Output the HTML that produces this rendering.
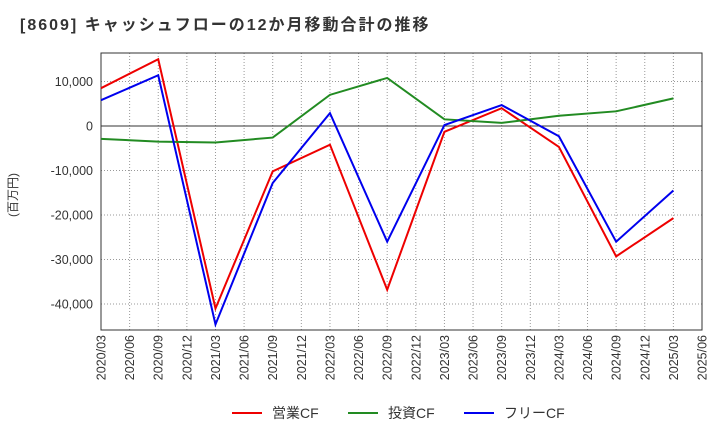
<!DOCTYPE html>
<html><head><meta charset="utf-8"><style>
body{margin:0;background:#fff;font-family:"Liberation Sans","Noto Sans CJK JP",sans-serif;}
</style></head><body>
<svg id="chart" width="720" height="440" xmlns="http://www.w3.org/2000/svg">
<text x="20" y="30" font-size="16" font-weight="bold" letter-spacing="2" fill="#333" font-family="Liberation Sans, Noto Sans CJK JP, sans-serif">[8609]  キャッシュフローの12か月移動合計の推移</text>
<text transform="translate(17,195) rotate(-90)" font-size="12" fill="#333" text-anchor="middle" font-family="Liberation Sans, Noto Sans CJK JP, sans-serif">(百万円)</text>
<g id="grid"></g><g id="axes"></g><g id="series"></g>
<g font-size="14" fill="#333" font-family="Liberation Sans, Noto Sans CJK JP, sans-serif">
<line x1="232" y1="413" x2="262" y2="413" stroke="#e00" stroke-width="2"/><text x="272" y="418">営業CF</text>
<line x1="348" y1="413" x2="378" y2="413" stroke="#228b22" stroke-width="2"/><text x="388" y="418">投資CF</text>
<line x1="464" y1="413" x2="494" y2="413" stroke="#00e" stroke-width="2"/><text x="504" y="418">フリーCF</text>
</g>
</svg>
<script>
const xLabels=["2020/03","2020/06","2020/09","2020/12","2021/03","2021/06","2021/09","2021/12","2022/03","2022/06","2022/09","2022/12","2023/03","2023/06","2023/09","2023/12","2024/03","2024/06","2024/09","2024/12","2025/03","2025/06"];
const yTicks=[10000,0,-10000,-20000,-30000,-40000];
const pointIdx=[0,2,4,6,8,10,12,14,16,18,20];
const operatingCF=[8500,15000,-41000,-10200,-4200,-36800,-1300,4000,-4700,-29300,-20700];
const investingCF=[-2900,-3500,-3700,-2600,7000,10800,1500,700,2300,3300,6200];
const freeCF=[5800,11400,-44600,-12800,2900,-26000,200,4700,-2300,-26000,-14500];
const L=101,R=702,T=53,B=330;
const xs=i=>L+i*(R-L)/(xLabels.length-1);
const ys=v=>126-v*44.5/10000;
const NS="http://www.w3.org/2000/svg";
function mk(tag,attrs,parent){const e=document.createElementNS(NS,tag);for(const k in attrs)e.setAttribute(k,attrs[k]);parent.appendChild(e);return e;}
const grid=document.getElementById('grid'),axes=document.getElementById('axes'),ser=document.getElementById('series');
xLabels.forEach((lab,i)=>{
 const g=mk('line',{x1:xs(i),x2:xs(i),y1:T,y2:B,stroke:'#999','stroke-dasharray':'1,2'},grid);
 
 
 const t=mk('text',{transform:`translate(${xs(i)+4.5},${B+5}) rotate(-90)`,'font-size':12.5,fill:'#333','text-anchor':'end'},axes);
 t.textContent=lab;
 
 
});
yTicks.forEach(v=>{
 const g=mk('line',{x1:L,x2:R,y1:ys(v),y2:ys(v),stroke:v===0?'#333':'#999','stroke-dasharray':v===0?'':'1,2'},grid);
 
 
 const t=mk('text',{x:L-8,y:ys(v)+4.5,'font-size':12.5,fill:'#333','text-anchor':'end'},axes);
 t.textContent=v.toLocaleString('en-US');
 
 
});
const fr=mk('rect',{x:L,y:T,width:R-L,height:B-T,fill:'none',stroke:'#333'},axes);


[[operatingCF,'#e00','operating-cf-line'],[investingCF,'#228b22','investing-cf-line'],[freeCF,'#00e','free-cf-line']].forEach(([d,c,n])=>{
 const p=mk('polyline',{points:d.map((v,k)=>xs(pointIdx[k])+','+ys(v)).join(' '),fill:'none',stroke:c,'stroke-width':2},ser);
 
 
});
</script>
</body></html>
